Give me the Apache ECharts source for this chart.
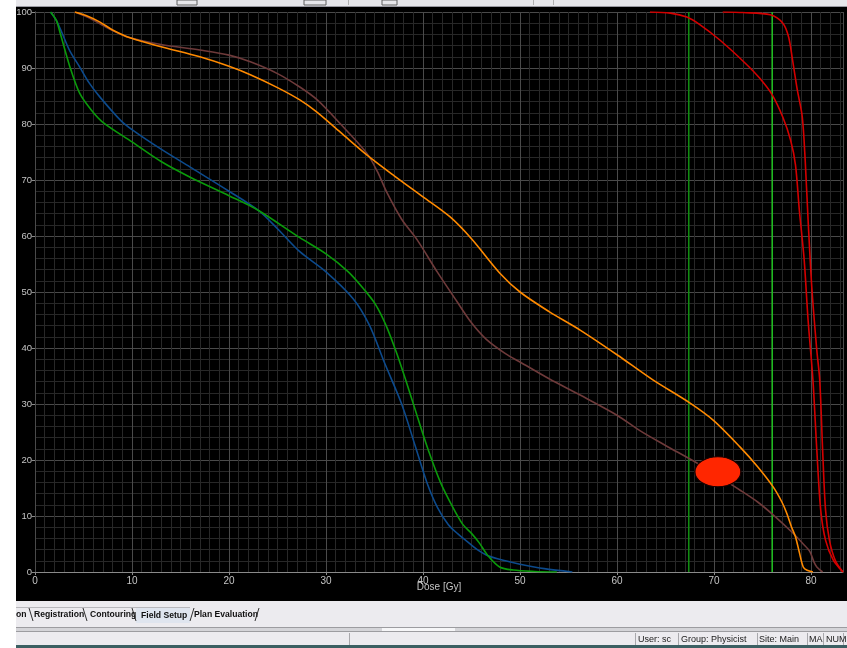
<!DOCTYPE html>
<html>
<head>
<meta charset="utf-8">
<script src="https://cdn.jsdelivr.net/npm/echarts@6/dist/echarts.min.js"></script>
<style>
  html, body { margin: 0; padding: 0; background: #000; }
  #dvh { width: 847px; height: 648px; }
</style>
</head>
<body>
<div id="dvh"></div>
<script>
// Dose-volume histogram curves: [dose in Gy, volume in %]
const greenCurve = [
  [1.6,100],[2.2,98.5],[2.6,96.2],[3.6,90.2],[4.6,85.5],[5.8,82.5],[7,80.3],[10,76.8],
  [13,73.3],[16,70.5],[20,67.2],[23,64.6],[27.3,59.7],[30,56.8],[32.3,53.6],[34,50.3],
  [35.1,47.8],[36.2,44],[37.3,39],[38.4,33.3],[39.5,27.3],[40.6,21.5],[41.8,16],
  [43,11.8],[44.1,8.5],[45,6.9],[45.8,5.2],[46.7,2.9],[47.9,0.9],[49.3,0.35],
  [51.5,0.1],[53.8,0]
];
const blueCurve = [
  [1.6,100],[2.2,98.5],[2.8,96.2],[3.6,93],[4.6,90.2],[5.6,87.3],[6.7,84.8],[8.8,80.7],
  [10,79],[13,75.5],[16,72.3],[20,68],[23,64.6],[25,61.3],[27.3,57.2],[30,53.6],
  [32.8,48.8],[34.5,44],[36,37.5],[37.8,30],[39.2,22.5],[40.4,16],[41.5,11.5],
  [42.6,8.5],[43.6,6.8],[44.6,5.4],[45.6,4],[46.7,2.9],[48.5,2],[50,1.4],[52.5,0.6],
  [55.4,0]
];
const brownCurve = [
  [4.1,100],[5.5,99],[6.7,97.9],[8,96.7],[9.8,95.4],[13,94.2],[17,93.2],[20,92.3],
  [22.2,91.1],[25,89],[27.3,86.6],[29.1,84.3],[31.5,80],[34.2,74.8],[35.3,71.5],
  [36.3,67.7],[37.8,63],[39.4,59.3],[41.5,53.5],[43.5,48.3],[45,44.5],[46.5,41.6],
  [48.5,39],[50,37.5],[53,34.5],[56.2,31.6],[60,28],[62.4,25.2],[65,22.6],[68.2,19.5],
  [70.5,17],[72.7,14.6],[74.5,12.5],[76.1,10.2],[78.1,7],[79.2,5],[79.9,3.6],[80.3,1.8],
  [80.6,0.9],[81.2,0]
];
const orangeCurve = [
  [4.1,100],[5.5,99.2],[6.7,98.2],[8,96.8],[9.8,95.4],[13,93.8],[17,92],[20,90.3],
  [22.2,88.8],[25,86.5],[27.3,84.3],[29,82.2],[31.5,78.5],[34.2,74.5],[37,70.8],
  [40,67],[42.8,63.4],[45,59.5],[47.9,53.4],[50,50],[53,46.5],[56.2,43.2],[60,38.8],
  [63.7,34.3],[67.5,30.2],[70,27],[72.7,22.3],[74.5,18.8],[76.1,15.2],[77,12.5],
  [77.5,10.5],[78,8],[78.4,6.3],[78.8,3.5],[79.2,0.9],[79.6,0.3],[80.2,0]
];
const redCurveA = [
  [63.4,100],[65.5,99.8],[67.2,99.1],[68.5,97.8],[70.6,95],[73.2,90.9],[74.7,88.2],
  [76,85.2],[77.1,81.2],[77.9,77.1],[78.4,72.7],[78.8,64.6],[79.3,55.7],[79.7,45],
  [80.2,34.3],[80.6,21.8],[81,11.1],[81.5,5.7],[82.3,2.1],[83.3,0]
];
const redCurveB = [
  [70.9,100],[73,99.9],[75.8,99.5],[77.1,98],[77.7,95.5],[78.1,91.4],[78.6,86],
  [79.1,81.3],[79.4,73.6],[79.7,62.9],[80.1,50.4],[80.6,39.6],[80.9,34.3],[81.2,21.8],
  [81.5,11.1],[81.9,5.7],[82.5,2.1],[83.3,0]
];
// Reference dose lines (Gy)
const doseLineLow = 67.4;
const doseLineHigh = 76.0;
// Marker
const markerPoint = [[70.4, 17.9]];

// Axis ranges
const doseMax = 83.3;
const volumeMax = 100;

// Tab bar and status bar texts
const tabLabels = ['on', 'Registration', 'Contouring', 'Field Setup', 'Plan Evaluation'];
const statusLabels = ['User: sc', 'Group: Physicist', 'Site: Main', 'MA', 'NUM'];

const chart = echarts.init(document.getElementById('dvh'), null, { renderer: 'canvas' });

function curve(name, data, color) {
  return {
    name, type: 'line', data, showSymbol: false, silent: true,
    smooth: 0.3, z: 3,
    lineStyle: { color, width: 1.6 }
  };
}
function doseLine(dose, color) {
  return {
    type: 'line', data: [[dose, 0], [dose, volumeMax]], showSymbol: false, silent: true,
    z: 2, lineStyle: { color, width: 1.5 }
  };
}

const font = 'Liberation Sans';
const tabX = [16, 34, 90, 141, 194];
const statusX = [638, 681, 759, 809, 826];
const statusSeps = [349, 635, 678, 757, 807, 823, 843];

const graphics = [
  // left window strip
  { type: 'rect', shape: { x: 0, y: 0, width: 16, height: 648 }, style: { fill: '#ffffff' }, z: 10 },
  // top toolbar strip
  { type: 'rect', shape: { x: 16, y: 0, width: 831, height: 7 }, style: { fill: '#e7e7eb' }, z: 10 },
  { type: 'rect', shape: { x: 16, y: 6, width: 831, height: 1 }, style: { fill: '#9a9aa2' }, z: 11 },
  { type: 'rect', shape: { x: 177, y: 0, width: 20, height: 5 }, style: { fill: 'none', stroke: '#606060', lineWidth: 1 }, z: 11 },
  { type: 'rect', shape: { x: 304, y: 0, width: 22, height: 5 }, style: { fill: 'none', stroke: '#606060', lineWidth: 1 }, z: 11 },
  { type: 'rect', shape: { x: 382, y: 0, width: 15, height: 5 }, style: { fill: 'none', stroke: '#606060', lineWidth: 1 }, z: 11 },
  { type: 'rect', shape: { x: 348, y: 0, width: 1, height: 5 }, style: { fill: '#b0b0b0' }, z: 11 },
  { type: 'rect', shape: { x: 533, y: 0, width: 1, height: 5 }, style: { fill: '#b0b0b0' }, z: 11 },
  { type: 'rect', shape: { x: 553, y: 0, width: 1, height: 5 }, style: { fill: '#b0b0b0' }, z: 11 },
  // bottom panel
  { type: 'rect', shape: { x: 16, y: 601, width: 831, height: 47 }, style: { fill: '#ecebef' }, z: 10 },
  { type: 'rect', shape: { x: 136, y: 607, width: 54, height: 16 }, style: { fill: '#dfe5ef' }, z: 11 },
  { type: 'rect', shape: { x: 16, y: 627, width: 831, height: 1 }, style: { fill: '#9c9ca0' }, z: 11 },
  { type: 'rect', shape: { x: 16, y: 628, width: 831, height: 3 }, style: { fill: '#d4d4d8' }, z: 11 },
  { type: 'rect', shape: { x: 382, y: 628, width: 73, height: 3 }, style: { fill: '#f6f6f8' }, z: 12 },
  { type: 'rect', shape: { x: 16, y: 631, width: 831, height: 1 }, style: { fill: '#9c9ca0' }, z: 11 },
  { type: 'rect', shape: { x: 16, y: 645, width: 831, height: 3 }, style: { fill: '#3b5f62' }, z: 11 },
  // tab separators
  { type: 'polyline', shape: { points: [[29, 608], [33, 621]] }, style: { stroke: '#303030', lineWidth: 1 }, z: 12 },
  { type: 'polyline', shape: { points: [[83, 608], [87, 621]] }, style: { stroke: '#303030', lineWidth: 1 }, z: 12 },
  { type: 'polyline', shape: { points: [[132, 608], [136, 621]] }, style: { stroke: '#303030', lineWidth: 1 }, z: 12 },
  { type: 'polyline', shape: { points: [[190, 621], [194, 608]] }, style: { stroke: '#303030', lineWidth: 1 }, z: 12 },
  { type: 'polyline', shape: { points: [[255, 621], [259, 608]] }, style: { stroke: '#303030', lineWidth: 1 }, z: 12 },
  { type: 'polyline', shape: { points: [[16, 607.5], [190, 607.5]] }, style: { stroke: '#b8b8bc', lineWidth: 1 }, z: 12 }
];
tabLabels.forEach((t, i) => {
  graphics.push({
    type: 'text', x: tabX[i], y: i === 3 ? 616 : 614.5, z: 13,
    style: { text: t, fill: '#101010', font: 'bold 8.6px "' + font + '"', textVerticalAlign: 'middle' }
  });
});
statusSeps.forEach(x => {
  graphics.push({ type: 'rect', shape: { x, y: 633, width: 1, height: 12 }, style: { fill: '#a8a8ac' }, z: 12 });
});
statusLabels.forEach((t, i) => {
  graphics.push({
    type: 'text', x: statusX[i], y: 640, z: 13,
    style: { text: t, fill: '#202020', font: '9px "' + font + '"', textVerticalAlign: 'middle' }
  });
});

chart.setOption({
  backgroundColor: '#000000',
  animation: false,
  grid: { left: 35, right: 4, top: 12, bottom: 76, containLabel: false },
  xAxis: [
    {
      type: 'value', min: 0, max: doseMax, interval: 10, z: 2,
      name: 'Dose [Gy]', nameLocation: 'middle', nameGap: 10, nameMoveOverlap: false,
      nameTextStyle: { color: '#c4c4c4', fontSize: 10, fontFamily: font },
      axisLine: { show: true, lineStyle: { color: '#8a8a8a', width: 1 } },
      axisTick: { show: true, length: 3, lineStyle: { color: '#8a8a8a' } },
      axisLabel: { color: '#c4c4c4', fontSize: 10, fontFamily: font, margin: 4, showMaxLabel: false },
      splitLine: { show: true, lineStyle: { color: '#4a4a4a', width: 1 } }
    },
    {
      // 1 Gy minor grid
      type: 'value', min: 0, max: doseMax, interval: 1, position: 'top', z: 1,
      axisLine: { show: false }, axisTick: { show: false }, axisLabel: { show: false },
      splitLine: { show: true, lineStyle: { color: '#282828', width: 1 } }
    }
  ],
  yAxis: {
    type: 'value', min: 0, max: volumeMax, interval: 10,
    axisLine: { show: true, lineStyle: { color: '#8a8a8a', width: 1 } },
    axisTick: { show: true, length: 3, lineStyle: { color: '#8a8a8a' } },
    axisLabel: { color: '#c4c4c4', fontSize: 9.5, fontFamily: font, margin: 3 },
    splitLine: { show: true, lineStyle: { color: '#4a4a4a', width: 1 } },
    minorTick: { show: false, splitNumber: 5 },
    minorSplitLine: { show: true, lineStyle: { color: '#282828', width: 1 } }
  },
  series: [
    doseLine(doseLineLow, '#128f12'),
    doseLine(doseLineHigh, '#22c422'),
    curve('Brown', brownCurve, '#6e3a3a'),
    curve('Orange', orangeCurve, '#ff8a00'),
    curve('Blue', blueCurve, '#0c4a8c'),
    curve('Green', greenCurve, '#0a9a0a'),
    curve('RedA', redCurveA, '#d40000'),
    curve('RedB', redCurveB, '#d40000'),
    {
      type: 'scatter', data: markerPoint, symbol: 'circle', symbolSize: [46, 30], z: 5, silent: true,
      itemStyle: { color: '#ff2600', borderColor: '#1a0000', borderWidth: 1, opacity: 1 }
    }
  ],
  graphic: graphics
});
</script>
</body>
</html>
